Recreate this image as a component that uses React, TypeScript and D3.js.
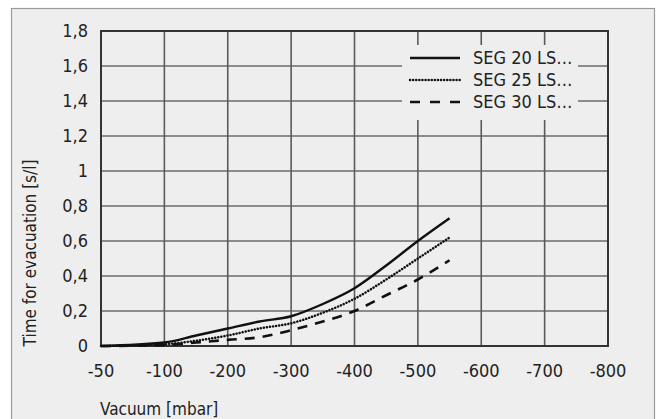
import * as d3 from 'd3'

const vacuum = [-50, -100, -150, -200, -250, -300, -350, -400, -450, -500, -550]
const seg20 = [0, 0.02, 0.06, 0.1, 0.14, 0.17, 0.24, 0.33, 0.46, 0.6, 0.73]
const seg25 = [0, 0.01, 0.03, 0.06, 0.1, 0.13, 0.19, 0.27, 0.38, 0.5, 0.62]
const seg30 = [0, 0.005, 0.02, 0.035, 0.05, 0.09, 0.14, 0.2, 0.29, 0.38, 0.49]
const xTicks = [-50, -100, -200, -300, -400, -500, -600, -700, -800]
const yTicks = [0, 0.2, 0.4, 0.6, 0.8, 1, 1.2, 1.4, 1.6, 1.8]
const seriesNames = ['SEG 20 LS…', 'SEG 25 LS…', 'SEG 30 LS…']

const W = 656
const H = 419
const left = 101
const right = 608
const top = 31
const bottom = 346

const FONT = "'Liberation Sans Narrow', 'DejaVu Sans Condensed', 'Roboto Condensed', 'Open Sans', sans-serif"

const styles = [
  { dash: undefined as string | undefined, width: 2.4, cap: 'butt' },
  { dash: '0.1 3', width: 2.5, cap: 'round' },
  { dash: '10 8', width: 2.6, cap: 'butt' },
]

export default function App() {
  const step = (right - left) / (xTicks.length - 1)
  const x = d3
    .scaleLinear()
    .domain(xTicks)
    .range(xTicks.map((_, i) => left + i * step))
  const y = d3.scaleLinear().domain([0, 1.8]).range([bottom, top])
  const fmt = (v: number) => String(+v.toFixed(1)).replace('.', ',')

  const line = d3
    .line<number>()
    .x((_, i) => x(vacuum[i]))
    .y((d) => y(d))
    .curve(d3.curveMonotoneX)

  const series = [seg20, seg25, seg30]
  const legendRows = [58, 80, 102]

  return (
    <svg
      width={W}
      height={H}
      style={{ position: 'absolute', left: 0, top: 0, fontFamily: FONT, fontStretch: 'condensed' }}
    >
      <rect x={0} y={0} width={W} height={H} fill="#ffffff" />
      <rect x={11.5} y={8.5} width={643} height={H + 10} fill="#eeeeee" stroke="#9a9a9a" strokeWidth={1.2} />

      {yTicks.slice(1, -1).map((t) => (
        <line key={'h' + t} x1={left} x2={right} y1={y(t)} y2={y(t)} stroke="#8c8c8c" strokeWidth={2} />
      ))}
      {xTicks.slice(1, -1).map((t) => (
        <line key={'v' + t} x1={x(t)} x2={x(t)} y1={top} y2={bottom} stroke="#5a5a5a" strokeWidth={1.6} />
      ))}

      <rect x={402} y={45} width={176} height={75} fill="#eeeeee" />

      <rect x={left} y={top} width={right - left} height={bottom - top} fill="none" stroke="#333333" strokeWidth={2} />

      {series.map((s, i) => (
        <path
          key={i}
          d={line(s) ?? ''}
          fill="none"
          stroke="#111111"
          strokeWidth={styles[i].width}
          strokeDasharray={styles[i].dash}
          strokeLinecap={styles[i].cap as any}
        />
      ))}

      {seriesNames.map((name, i) => (
        <g key={name}>
          <line
            x1={410}
            x2={460}
            y1={legendRows[i]}
            y2={legendRows[i]}
            stroke="#111111"
            strokeWidth={styles[i].width}
            strokeDasharray={i === 2 ? '10 10' : styles[i].dash}
            strokeLinecap={styles[i].cap as any}
          />
          <text x={473} y={legendRows[i]} dy="0.36em" fontSize={18} fill="#222">
            {name}
          </text>
        </g>
      ))}

      {yTicks.map((t) => (
        <text key={'yl' + t} x={88} y={y(t)} dy="0.36em" textAnchor="end" fontSize={18} fill="#222">
          {fmt(t)}
        </text>
      ))}
      {xTicks.map((t) => (
        <text key={'xl' + t} x={x(t)} y={377} textAnchor="middle" fontSize={18} fill="#222">
          {t}
        </text>
      ))}

      <text
        transform={`translate(36,253) rotate(-90)`}
        textAnchor="middle"
        fontSize={17}
        fill="#222"
      >
        Time for evacuation [s/l]
      </text>
      <text x={100} y={415} fontSize={17} fill="#222">
        Vacuum [mbar]
      </text>
    </svg>
  )
}
